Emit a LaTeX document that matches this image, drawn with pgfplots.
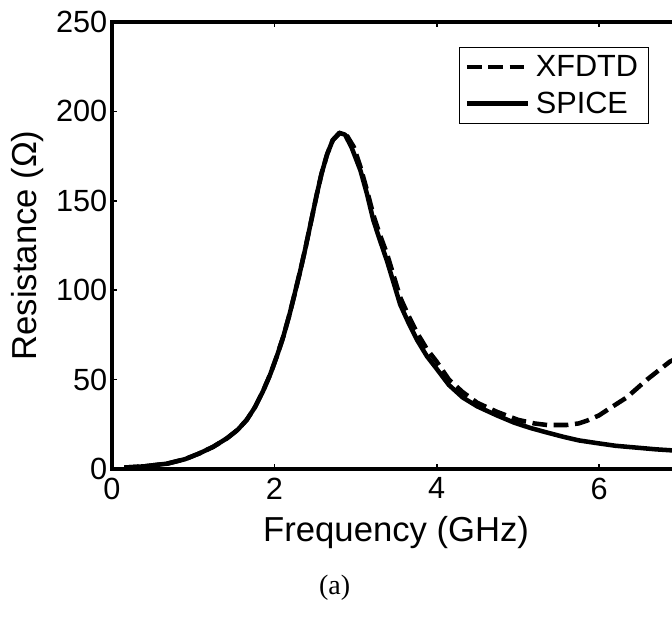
\documentclass[border=0pt]{standalone}
\usepackage{fontspec}
\setmainfont{Liberation Sans}
\newfontfamily\serif{Liberation Serif}
\usepackage{pgfplots}
\usepackage{pgfplotstable}
\pgfplotsset{compat=1.18}

\pgfplotstableread{
f R
0.15 0.8
0.40 1.5
0.68 3
0.90 5.5
1.08 8.8
1.25 12.5
1.42 17.3
1.55 22
1.66 27.5
1.76 34.5
1.86 43.5
1.95 53
2.03 63
2.11 74
2.19 87
2.25 98
2.32 111
2.38 123
2.45 138
2.52 153
2.58 165
2.65 176
2.72 184
2.80 188
2.87 187
2.95 180
3.06 167
3.14 154
3.22 139
3.30 128
3.39 116
3.47 104
3.55 92
3.65 82
3.76 72
3.88 63
4.00 56
4.15 47
4.32 40
4.50 35
4.74 30
4.95 26
5.15 23
5.35 20.5
5.56 18
5.75 16
5.97 14.5
6.20 13
6.45 12
6.70 11
6.87 10.5
7.00 10
}\spice

\pgfplotstableread{
f R
0.15 0.8
0.40 1.5
0.68 3
0.90 5.5
1.08 8.8
1.25 12.5
1.42 17.3
1.55 22
1.66 27.5
1.76 34.5
1.86 43.5
1.95 53
2.03 63
2.11 74
2.19 87
2.25 98
2.32 111
2.38 123
2.45 138
2.52 153
2.58 165
2.65 176
2.72 184
2.82 188.5
2.90 186
2.98 180
3.06 169
3.14 156
3.22 142
3.30 131
3.39 120
3.47 108
3.55 96
3.65 86
3.76 76
3.88 67
4.00 60
4.15 50
4.32 43
4.50 37
4.74 32
5.00 27.5
5.20 25.5
5.36 24.6
5.60 24.6
5.75 25.5
5.85 27
6.00 30
6.10 33
6.34 40
6.59 50
6.87 60
7.00 63
}\xfdtd

\begin{document}
\begin{tikzpicture}
\useasboundingbox (0,0) rectangle (504pt,474pt);
\clip (0,0) rectangle (504pt,474pt);
\begin{axis}[
  at={(84pt,122.25pt)}, anchor=south west,
  scale only axis, width=426.2pt, height=335.25pt,
  xmin=0, xmax=7, ymin=0, ymax=250,
  xtick={0,2,4,6}, ytick={0,50,100,150,200,250},
  tick align=inside, major tick length=3.5pt,
  every tick/.style={line width=1.2pt, black},
  axis line style={line width=2.6pt},
  tick label style={font=\fontsize{23}{27}\selectfont},
  xticklabel style={yshift=-3pt},
  label style={font=\fontsize{26}{30}\selectfont},
  /pgf/number format/assume math mode=true,
  xlabel={Frequency (GHz)}, ylabel={Resistance (Ω)},
  xlabel style={at={(axis description cs:0.5,-0.142)}, anchor=center},
  ylabel style={at={(axis description cs:-0.148,0.5)}, anchor=center},
  legend style={at={(0.6106,0.944)}, anchor=north west, draw=black, line width=0.6pt,
    font=\fontsize{23}{27}\selectfont, inner xsep=4pt, inner ysep=4pt, row sep=6pt,
    nodes={inner xsep=4pt}},
  legend cell align=left,
  legend image code/.code={\draw[#1] (0pt,0pt) -- (46pt,0pt);},
]
\addplot[black, line width=3.4pt, line join=round, dash pattern=on 11pt off 5pt] table[x=f,y=R] {\xfdtd};
\addlegendentry{XFDTD}
\addplot[black, line width=3.4pt, line join=round] table[x=f,y=R] {\spice};
\addlegendentry{SPICE}
\end{axis}
\node at (251pt,33pt) {\serif\fontsize{21}{25}\selectfont (a)};
\end{tikzpicture}
\end{document}
